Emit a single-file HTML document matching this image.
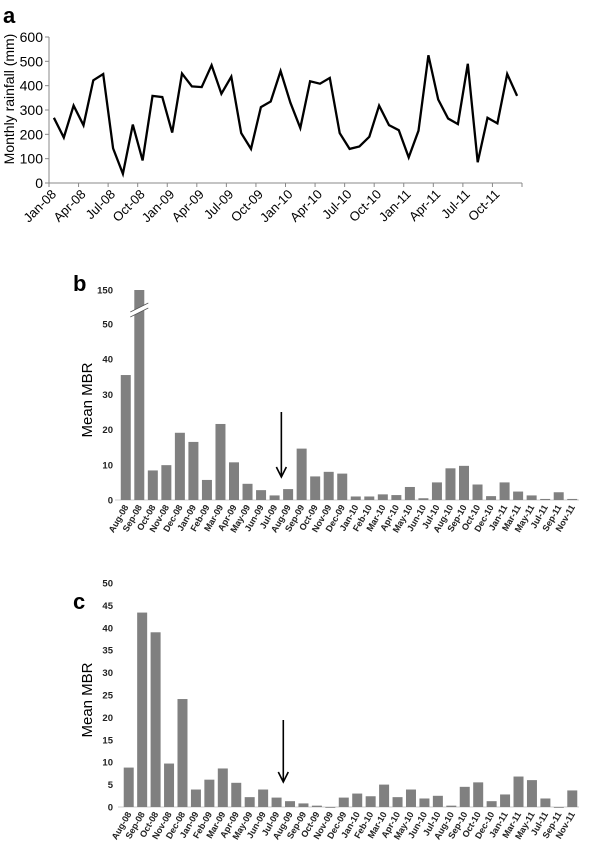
<!DOCTYPE html>
<html><head><meta charset="utf-8"><style>
html,body{margin:0;padding:0;background:#fff;}
svg{display:block;font-family:"Liberation Sans",sans-serif;}
</style></head><body>
<svg id="fig" width="615" height="844" viewBox="0 0 615 844">
<text x="3" y="23" font-size="22" font-weight="bold">a</text>
<text x="73" y="291" font-size="22" font-weight="bold">b</text>
<text x="73" y="609" font-size="22" font-weight="bold">c</text>
<text transform="translate(14,99) rotate(-90)" text-anchor="middle" font-size="14">Monthly rainfall (mm)</text>
<text transform="translate(92,400) rotate(-90)" text-anchor="middle" font-size="15">Mean MBR</text>
<text transform="translate(92,700) rotate(-90)" text-anchor="middle" font-size="15">Mean MBR</text>
<g id="ga"></g><g id="gb"></g><g id="gc"></g>
</svg>
<script>
const rainMonths = ["Jan-08","Apr-08","Jul-08","Oct-08","Jan-09","Apr-09","Jul-09","Oct-09","Jan-10","Apr-10","Jul-10","Oct-10","Jan-11","Apr-11","Jul-11","Oct-11"];
const rainfall = [268,187,318,237,422,448,142,38,240,93,358,353,207,450,397,394,484,367,437,205,140,312,335,460,330,226,418,408,432,205,140,150,190,318,238,217,105,215,525,343,265,242,490,85,268,245,448,358];
const rainTicks = [0,100,200,300,400,500,600];
const mbrCats = ["Aug-08","Sep-08","Oct-08","Nov-08","Dec-08","Jan-09","Feb-09","Mar-09","Apr-09","May-09","Jun-09","Jul-09","Aug-09","Sep-09","Oct-09","Nov-09","Dec-09","Jan-10","Feb-10","Mar-10","Apr-10","May-10","Jun-10","Jul-10","Aug-10","Sep-10","Oct-10","Dec-10","Jan-11","Mar-11","May-11","Jul-11","Sep-11","Nov-11"];
const mbrB = [35.5,150,8.4,9.9,19.1,16.5,5.7,21.6,10.7,4.6,2.8,1.3,3.1,14.6,6.7,8.0,7.5,1.0,1.0,1.6,1.4,3.7,0.5,5.0,9.0,9.7,4.4,1.1,5.0,2.4,1.3,0.3,2.2,0.3];
const mbrBTicks = [0,10,20,30,40,50,150];
const mbrC = [8.8,43.4,39.0,9.7,24.1,3.9,6.1,8.6,5.4,2.2,3.9,2.1,1.3,0.8,0.3,0,2.1,3.0,2.4,5.0,2.2,3.9,1.9,2.5,0.3,4.5,5.5,1.3,2.8,6.8,6.0,1.9,0,3.7];
const mbrCTicks = [0,5,10,15,20,25,30,35,40,45,50];
const NS="http://www.w3.org/2000/svg";
function mk(p,t,a){const e=document.createElementNS(NS,t);for(const k in a)e.setAttribute(k,a[k]);p.appendChild(e);return e;}

// Panel a
(function(){
const g=document.getElementById('ga');
const x0=49,x1=522,n=rainfall.length,step=(x1-x0)/n;
const y=v=>183-v*(146/600);
const xc=i=>x0+step*(i+0.5);
let ax=mk(g,'line',{x1:x0,y1:y(600),x2:x0,y2:183,stroke:'#888','stroke-width':1});


let bx=mk(g,'line',{x1:x0,y1:183,x2:x1,y2:183,stroke:'#888','stroke-width':1});


rainTicks.forEach(v=>{
 mk(g,'line',{x1:x0-4,y1:y(v),x2:x0,y2:y(v),stroke:'#888'});
 const t=mk(g,'text',{x:x0-6,y:y(v)+5,'text-anchor':'end','font-size':14});
 t.textContent=v;
 
 
});
for(let i=0;i<=n;i+=3){mk(g,'line',{x1:x0+step*i,y1:183,x2:x0+step*i,y2:187,stroke:'#888'});}
rainMonths.forEach((m,k)=>{
 const cx=xc(k*3);
 const t=mk(g,'text',{transform:`translate(${cx+3},${195}) rotate(-45)`,'text-anchor':'end','font-size':13});
 t.textContent=m;
 
 
});
const pts=rainfall.map((v,i)=>xc(i).toFixed(1)+','+y(v).toFixed(1)).join(' ');
const pl=mk(g,'polyline',{points:pts,fill:'none',stroke:'#000','stroke-width':2.3,'stroke-linejoin':'miter'});


})();

function barPanel(gid,vals,ticks,base,yf,x0,x1,arrowY,prefix,broken){
 const g=document.getElementById(gid);
 const n=vals.length,step=(x1-x0)/n;
 const bl=mk(g,'line',{x1:x0-4,y1:base,x2:x1,y2:base,stroke:'#ccc','stroke-width':1});
 
 
 ticks.forEach(v=>{
  const t=mk(g,'text',{x:113,y:yf(v)+3.5,'text-anchor':'end','font-size':9.5,'font-weight':'bold',fill:'#222'});
  t.textContent=v;
  
  
 });
 vals.forEach((v,i)=>{
  const cx=x0+step*(i+0.5),top=yf(v);
  const r=mk(g,'rect',{x:cx-5,y:top,width:10,height:Math.max(base-top,0.8),fill:'#808080'});
  
  
  const t=mk(g,'text',{transform:`translate(${cx+3},${base+7}) rotate(-60)`,'text-anchor':'end','font-size':9,'font-weight':'bold',fill:'#222'});
  t.textContent=mbrCats[i];
  
  
 });
 if(broken){
  const i=vals.indexOf(Math.max(...vals));const cx=x0+step*(i+0.5);
  const br=mk(g,'polygon',{points:`${cx-9},${312} ${cx+9},${303} ${cx+9},${308} ${cx-9},${317}`,fill:'#fff'});
  
  
  mk(g,'line',{x1:cx-9,y1:312,x2:cx+9,y2:303,stroke:'#555','stroke-width':0.8});
  mk(g,'line',{x1:cx-9,y1:317,x2:cx+9,y2:308,stroke:'#555','stroke-width':0.8});
 }
 const ax=x0+step*12;
 const a=mk(g,'line',{x1:ax,y1:arrowY[0],x2:ax,y2:arrowY[1],stroke:'#000','stroke-width':1.6});
 
 
 mk(g,'polyline',{points:`${ax-5},${arrowY[1]-10} ${ax},${arrowY[1]} ${ax+5},${arrowY[1]-10}`,fill:'none',stroke:'#000','stroke-width':1.6});
}
barPanel('gb',mbrB,mbrBTicks,500,v=>v<=50?500-v*3.52:324-(v-50)*0.34,119,579,[412,477],'panel-b',true);
barPanel('gc',mbrC,mbrCTicks,807,v=>807-v*4.48,122,579,[720,782],'panel-c',false);
</script>
</body></html>
